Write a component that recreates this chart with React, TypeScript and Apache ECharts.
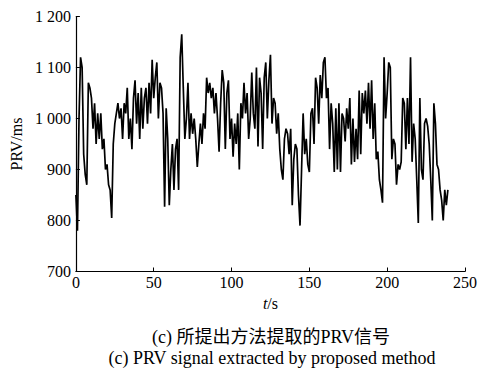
import React, { useEffect, useRef } from "react";
import * as echarts from "echarts";

const prvValues: number[] = [
  850, 780, 1000, 1120, 1100, 930, 890, 870, 1070, 1060,
  1040, 980, 1030, 950, 1010, 960, 1010, 940, 960, 900,
  910, 870, 860, 805, 950, 990, 1010, 1030, 1000, 1020,
  960, 1030, 1010, 1060, 960, 1000,
  940, 1040, 1075, 990, 1050, 960, 1060, 980, 1040, 1060,
  990, 1070, 1010, 1115, 1040, 1080, 1110, 1000, 1070, 1060,
  1010, 827, 1020, 960, 830, 900, 950, 860, 940, 960,
  860, 1120, 1165, 1060, 960,
  1000, 1070, 960, 1010, 970, 1000, 960, 905, 950, 990,
  950, 1010, 980, 1080, 1050, 1070, 1040, 1060, 1010, 1050,
  1000, 935, 1030, 1095, 1070, 940, 1050, 1075, 960, 1000,
  925, 990, 950, 1010, 900, 1030, 1000,
  1070, 1010, 1050, 960, 1000, 1090, 1010, 980, 1100, 945,
  1080, 1050, 940, 1080, 1110, 1000, 1075, 1125, 990, 1040,
  1030, 970, 1010, 940, 900, 880, 960, 980, 970, 930,
  980, 830, 920, 950, 940,
  850, 790, 900, 1010, 930, 960, 910, 895, 1010, 1020,
  950, 1080, 1060, 990, 1085, 1040, 1110, 1120, 1040, 1060,
  940, 1030, 990, 895, 1020, 900, 1030, 895, 1010, 1000,
  955, 1020, 980, 1040, 910, 1000,
  915, 980, 920, 1055, 930, 1050, 1010, 1055, 990, 1070,
  980, 1075, 960, 1030, 920, 935, 880, 860, 835, 1120,
  1000, 1050, 1110, 1100, 920, 960, 950, 870, 910, 900,
  915, 1040, 1030, 940,
  1040, 950, 1120, 915, 990, 960, 880, 795, 1040, 900,
  880, 990, 1000, 985, 950, 880, 800, 1030, 990, 910,
  900, 860, 840, 800, 860, 830, 860,
];

const xTicks: number[] = [0, 50, 100, 150, 200, 250];
const yTicks: number[] = [700, 800, 900, 1000, 1100, 1200];
const yTickLabels: string[] = ["700", "800", "900", "1 000", "1 100", "1 200"];

const yAxisTitle = "PRV/ms";
const captionCn = "(c) 所提出方法提取的PRV信号";
const captionEn = "(c) PRV signal extracted by proposed method";

const FONT = "'Liberation Serif', 'Times New Roman', serif";
const CJK = "'Liberation Serif', 'Noto Sans CJK SC', serif";

export default function App() {
  const ref = useRef<HTMLDivElement>(null);

  useEffect(() => {
    if (!ref.current) return;
    const chart = echarts.init(ref.current, undefined, { renderer: "svg" });
    const data = prvValues.map((v, i) => [i, v]);
    chart.setOption({
      animation: false,
      backgroundColor: "#ffffff",
      grid: { left: 75.5, right: 14, top: 16.5, bottom: 102.5, containLabel: false },
      xAxis: {
        type: "value",
        min: xTicks[0],
        max: xTicks[xTicks.length - 1],
        interval: 50,
        name: "{i|t}/s",
        nameLocation: "middle",
        nameGap: 23,
        nameTextStyle: {
          fontFamily: FONT,
          fontSize: 16,
          color: "#000",
          rich: { i: { fontStyle: "italic", fontFamily: FONT, fontSize: 16, color: "#000" } },
        },
        axisLine: { show: true, lineStyle: { color: "#000", width: 1.2 } },
        axisTick: { show: true, inside: true, length: 4, lineStyle: { color: "#000" } },
        axisLabel: { color: "#000", fontFamily: FONT, fontSize: 16, margin: 3 },
        splitLine: { show: false },
      },
      yAxis: {
        type: "value",
        min: yTicks[0],
        max: yTicks[yTicks.length - 1],
        interval: 100,
        name: yAxisTitle,
        nameLocation: "middle",
        nameGap: 51,
        nameTextStyle: { fontFamily: FONT, fontSize: 16, color: "#000" },
        axisLine: { show: true, lineStyle: { color: "#000", width: 1.2 } },
        axisTick: { show: true, inside: true, length: 4, lineStyle: { color: "#000" } },
        axisLabel: {
          color: "#000",
          fontFamily: FONT,
          fontSize: 16,
          margin: 5,
          formatter: (v: number) => {
            const idx = yTicks.indexOf(v);
            return idx >= 0 ? yTickLabels[idx] : String(v);
          },
        },
        splitLine: { show: false },
      },
      series: [
        {
          type: "line",
          data,
          showSymbol: false,
          symbol: "none",
          lineStyle: { color: "#000", width: 1.7 },
        },
      ],
      graphic: [
        {
          type: "text",
          x: 271,
          y: 337,
          style: {
            text: captionCn,
            font: `18px ${CJK}`,
            fill: "#000",
            textAlign: "center",
            textVerticalAlign: "middle",
          },
        },
        {
          type: "text",
          x: 272,
          y: 358,
          style: {
            text: captionEn,
            font: `18px ${FONT}`,
            fill: "#000",
            textAlign: "center",
            textVerticalAlign: "middle",
          },
        },
      ],
    });
    return () => chart.dispose();
  }, []);

  return (
    <div
      ref={ref}
      style={{ position: "absolute", left: 0, top: 0, width: 480, height: 374 }}
    />
  );
}
